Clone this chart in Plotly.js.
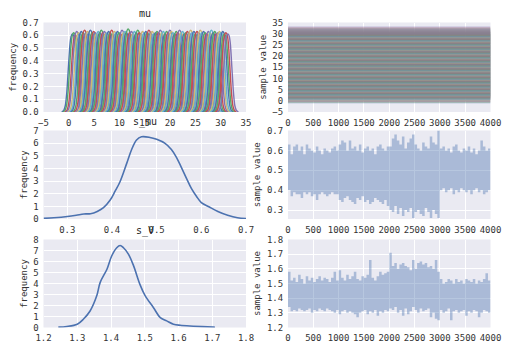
<!DOCTYPE html>
<html>
<head>
<meta charset="utf-8">
<script src="https://cdn.plot.ly/plotly-3.0.1.min.js"></script>
<style>html,body{margin:0;padding:0;background:#fff}#plot{width:506px;height:352px}</style>
</head>
<body>
<div id="plot"></div>
<script>
// ---------- DATA ----------
// mu: posterior means of each group parameter (centers of the KDE curves)
const muCenters = [
  0.70, 0.95, 1.30, 1.55, 1.90, 2.20, 2.45, 2.80, 3.10, 3.40,
  3.70, 4.00, 4.25, 4.60, 4.90, 5.20, 5.45, 5.80, 6.10, 6.40,
  6.70, 7.00, 7.25, 7.55, 7.85, 8.15, 8.45, 8.75, 9.00, 9.30,
  9.60, 9.90, 10.20, 10.50, 10.80, 11.10, 11.35, 11.70, 12.00, 12.35,
  12.65, 12.95, 13.30, 13.60, 13.90, 14.25, 14.55, 14.85, 15.20, 15.50,
  15.80, 16.15, 16.45, 16.75, 17.10, 17.40, 17.70, 18.05, 18.35, 18.65,
  19.00, 19.30, 19.60, 19.95, 20.25, 20.55, 20.90, 21.20, 21.50, 21.85,
  22.15, 22.45, 22.80, 23.10, 23.40, 23.75, 24.05, 24.35, 24.70, 25.00,
  25.30, 25.65, 25.95, 26.25, 26.60, 26.90, 27.20, 27.55, 27.85, 28.15,
  28.50, 28.80, 29.10, 29.45, 29.75, 30.05, 30.40, 30.70, 31.00, 31.40
];
// peak height of each mu KDE curve
const muPeaks = [
  0.61, 0.62, 0.60, 0.63, 0.62, 0.61, 0.63, 0.62, 0.64, 0.62,
  0.63, 0.61, 0.64, 0.62, 0.63, 0.62, 0.61, 0.63, 0.62, 0.64,
  0.62, 0.63, 0.61, 0.62, 0.63, 0.62, 0.64, 0.61, 0.63, 0.62,
  0.63, 0.62, 0.61, 0.64, 0.62, 0.63, 0.62, 0.65, 0.62, 0.63,
  0.61, 0.63, 0.62, 0.64, 0.62, 0.61, 0.63, 0.62, 0.63, 0.62,
  0.64, 0.62, 0.63, 0.61, 0.62, 0.63, 0.62, 0.64, 0.62, 0.63,
  0.61, 0.63, 0.62, 0.64, 0.63, 0.62, 0.61, 0.63, 0.62, 0.64,
  0.62, 0.63, 0.61, 0.62, 0.63, 0.62, 0.64, 0.62, 0.63, 0.61,
  0.63, 0.62, 0.64, 0.62, 0.63, 0.62, 0.61, 0.63, 0.62, 0.64,
  0.62, 0.63, 0.61, 0.62, 0.63, 0.62, 0.63, 0.61, 0.62, 0.61
];
// shape of one mu KDE curve: offset from the center and relative height
const kdeOffsets = [-2.1, -1.7, -1.4, -1.1, -0.8, -0.5, -0.25, 0, 0.25, 0.5, 0.8, 1.1, 1.4, 1.7, 2.1];
const kdeShape   = [0, 0.02, 0.08, 0.25, 0.55, 0.85, 0.97, 1, 0.98, 0.88, 0.58, 0.27, 0.08, 0.02, 0];
// half-spread of each mu trace around its center (sample value units)
const muTraceSpread = 1.9;

// s_mu KDE
const sMuX = [0.247, 0.27, 0.30, 0.32, 0.337, 0.352, 0.367, 0.381, 0.396, 0.407, 0.418, 0.433, 0.444, 0.455, 0.466,
              0.485, 0.50, 0.518, 0.533, 0.544, 0.555, 0.567, 0.578, 0.589, 0.60, 0.618, 0.637, 0.659, 0.681, 0.70];
const sMuY = [0.05, 0.1, 0.2, 0.3, 0.4, 0.42, 0.6, 0.9, 1.5, 2.2, 2.95, 4.4, 5.5, 6.25, 6.5,
              6.45, 6.3, 6.0, 5.5, 4.9, 4.1, 3.2, 2.4, 1.8, 1.3, 0.95, 0.6, 0.3, 0.1, 0.03];

// s_V KDE
const sVX = [1.244, 1.269, 1.30, 1.318, 1.338, 1.358, 1.368, 1.388, 1.402, 1.417, 1.427, 1.437, 1.452, 1.467,
             1.486, 1.501, 1.526, 1.546, 1.565, 1.585, 1.605, 1.644, 1.703, 1.708];
const sVY = [0.03, 0.09, 0.3, 0.75, 1.5, 2.9, 4.1, 5.3, 6.5, 7.25, 7.45, 7.25, 6.65, 5.6,
             3.9, 2.9, 1.8, 0.9, 0.6, 0.3, 0.2, 0.12, 0.03, 0.02];

// trace plots: iteration grid (every 50 iterations, 4 chains of 1000)
const traceIter = Array.from({length: 81}, (_, i) => i * 50);
const sMuHi = [
  0.63,0.58,0.62,0.63,0.60,0.62,0.58,0.63,0.61,0.60,0.59,0.62,0.60,0.58,0.61,0.60,0.59,0.61,0.62,0.60,
  0.63,0.65,0.64,0.60,0.65,0.61,0.62,0.60,0.63,0.59,0.61,0.62,0.60,0.61,0.58,0.62,0.63,0.61,0.60,0.62,
  0.62,0.66,0.68,0.65,0.63,0.67,0.61,0.64,0.66,0.68,0.63,0.61,0.60,0.64,0.62,0.61,0.67,0.64,0.63,0.70,
  0.61,0.62,0.60,0.61,0.59,0.62,0.63,0.60,0.59,0.61,0.60,0.62,0.59,0.61,0.58,0.60,0.65,0.62,0.60,0.61
];
const sMuLo = [
  0.40,0.37,0.39,0.38,0.38,0.36,0.39,0.38,0.39,0.37,0.38,0.35,0.38,0.39,0.38,0.37,0.38,0.39,0.38,0.38,
  0.35,0.34,0.36,0.37,0.35,0.34,0.33,0.36,0.35,0.37,0.34,0.35,0.33,0.34,0.36,0.35,0.34,0.33,0.35,0.32,
  0.30,0.29,0.32,0.28,0.31,0.27,0.30,0.29,0.31,0.26,0.29,0.30,0.28,0.27,0.31,0.29,0.26,0.30,0.28,0.26,
  0.40,0.41,0.39,0.40,0.41,0.38,0.40,0.39,0.41,0.40,0.39,0.40,0.38,0.40,0.41,0.39,0.40,0.38,0.39,0.40
];
const sVHi = [
  1.58,1.52,1.54,1.51,1.56,1.53,1.50,1.55,1.52,1.54,1.51,1.53,1.55,1.52,1.54,1.53,1.51,1.54,1.58,1.52,
  1.59,1.54,1.52,1.56,1.53,1.55,1.58,1.53,1.52,1.55,1.54,1.56,1.66,1.54,1.52,1.55,1.58,1.56,1.57,1.58,
  1.71,1.62,1.64,1.60,1.63,1.64,1.62,1.61,1.59,1.66,1.60,1.64,1.65,1.63,1.64,1.61,1.62,1.60,1.66,1.58,
  1.53,1.50,1.51,1.53,1.52,1.50,1.53,1.51,1.52,1.50,1.53,1.52,1.51,1.53,1.50,1.52,1.51,1.53,1.57,1.52
];
const sVLo = [
  1.34,1.31,1.32,1.31,1.33,1.32,1.31,1.32,1.33,1.30,1.32,1.31,1.33,1.32,1.31,1.33,1.32,1.31,1.30,1.32,
  1.29,1.31,1.32,1.30,1.31,1.30,1.29,1.27,1.30,1.31,1.32,1.29,1.31,1.30,1.32,1.28,1.31,1.30,1.32,1.31,
  1.33,1.32,1.34,1.30,1.32,1.28,1.33,1.29,1.31,1.34,1.32,1.30,1.33,1.31,1.32,1.33,1.27,1.30,1.26,1.25,
  1.32,1.30,1.31,1.33,1.25,1.31,1.32,1.30,1.31,1.32,1.28,1.31,1.30,1.32,1.31,1.27,1.30,1.32,1.31,1.30
];

// ---------- STYLE ----------
const palette = ['#4C72B0', '#55A868', '#C44E52', '#8172B2', '#CCB974', '#64B5CD'];
const paletteRGB = [[76,114,176],[85,168,104],[196,78,82],[129,114,178],[204,185,116],[100,181,205]];
const FONT = 'DejaVu Sans Mono, monospace';
const traceBand = 'rgba(76,114,176,0.4)';

const traces = [];
// mu KDEs
muCenters.forEach((c, i) => {
  traces.push({
    x: kdeOffsets.map(o => c + o), y: kdeShape.map(s => s * muPeaks[i]),
    mode: 'lines', line: {color: palette[i % 6], width: 1.4, shape: 'spline', smoothing: 0.6},
    xaxis: 'x', yaxis: 'y', hoverinfo: 'skip', showlegend: false
  });
});
// mu traces
const iStart = traceIter[0], iEnd = traceIter[traceIter.length - 1];
muCenters.forEach((c, i) => {
  const col = paletteRGB[i % 6];
  traces.push({
    x: [iStart, iEnd, iEnd, iStart], y: [c - muTraceSpread, c - muTraceSpread, c + muTraceSpread, c + muTraceSpread],
    mode: 'lines', fill: 'toself', line: {width: 0},
    fillcolor: `rgba(${col[0]},${col[1]},${col[2]},0.28)`,
    xaxis: 'x2', yaxis: 'y2', hoverinfo: 'skip', showlegend: false
  });
});
// s_mu KDE
traces.push({x: sMuX, y: sMuY, mode: 'lines', line: {color: palette[0], width: 1.6, shape: 'spline'},
  xaxis: 'x3', yaxis: 'y3', showlegend: false});
// trace bands (envelope of the sampled values)
function bandTraces(lo, hi, xa, ya) {
  const xs = traceIter;
  const loY = lo.concat([lo[lo.length - 1]]);
  const hiY = hi.concat([hi[hi.length - 1]]);
  return [
    {x: xs, y: loY, mode: 'lines', line: {width: 0, shape: 'hv'}, xaxis: xa, yaxis: ya, showlegend: false, hoverinfo: 'skip'},
    {x: xs, y: hiY, mode: 'lines', line: {width: 0, shape: 'hv'}, fill: 'tonexty', fillcolor: traceBand,
     xaxis: xa, yaxis: ya, showlegend: false, hoverinfo: 'skip'}
  ];
}
traces.push(...bandTraces(sMuLo, sMuHi, 'x4', 'y4'));
// s_V KDE
traces.push({x: sVX, y: sVY, mode: 'lines', line: {color: palette[0], width: 1.6, shape: 'spline'},
  xaxis: 'x5', yaxis: 'y5', showlegend: false});
traces.push(...bandTraces(sVLo, sVHi, 'x6', 'y6'));

// ---------- LAYOUT ----------
const W = 506, H = 352;
const colL = [43.5 / W, 246 / W], colR = [288 / W, 490.5 / W];
const row1 = [(H - 112) / H, (H - 22.5) / H];
const row2 = [(H - 219) / H, (H - 130.5) / H];
const row3 = [(H - 327.5) / H, (H - 239.5) / H];

function ax(extra) {
  return Object.assign({
    showgrid: true, gridcolor: '#ffffff', gridwidth: 1, zeroline: false, showline: false,
    ticks: 'outside', ticklen: 2, tickcolor: 'rgba(0,0,0,0)',
    tickfont: {family: FONT, size: 9, color: '#333333'}, automargin: false, fixedrange: true
  }, extra);
}
function ytitle(t) { return {text: t, font: {family: FONT, size: 9, color: '#333333'}, standoff: 4}; }

const layout = {
  width: W, height: H, margin: {l: 0, r: 0, t: 0, b: 0},
  paper_bgcolor: '#ffffff', plot_bgcolor: '#EAEAF2', showlegend: false,
  xaxis:  ax({domain: colL, anchor: 'y',  range: [-5, 35], dtick: 5, tick0: 0}),
  yaxis:  ax({domain: row1, anchor: 'x',  range: [0, 0.7], dtick: 0.1, tickformat: '.1f', title: ytitle('frequency')}),
  xaxis2: ax({domain: colR, anchor: 'y2', range: [0, 4000], dtick: 500, tick0: 0}),
  yaxis2: ax({domain: row1, anchor: 'x2', range: [-5, 35], dtick: 5, tick0: 0, title: ytitle('sample value')}),
  xaxis3: ax({domain: colL, anchor: 'y3', range: [0.2467, 0.70], dtick: 0.1, tick0: 0, tickformat: '.1f'}),
  yaxis3: ax({domain: row2, anchor: 'x3', range: [0, 7], dtick: 1, tick0: 0, title: ytitle('frequency')}),
  xaxis4: ax({domain: colR, anchor: 'y4', range: [0, 4000], dtick: 500, tick0: 0}),
  yaxis4: ax({domain: row2, anchor: 'x4', range: [0.255, 0.7], dtick: 0.1, tick0: 0, tickformat: '.1f', title: ytitle('sample value')}),
  xaxis5: ax({domain: colL, anchor: 'y5', range: [1.2, 1.8], dtick: 0.1, tick0: 0, tickformat: '.1f'}),
  yaxis5: ax({domain: row3, anchor: 'x5', range: [0, 8], dtick: 1, tick0: 0, title: ytitle('frequency')}),
  xaxis6: ax({domain: colR, anchor: 'y6', range: [0, 4000], dtick: 500, tick0: 0}),
  yaxis6: ax({domain: row3, anchor: 'x6', range: [1.2, 1.8], dtick: 0.1, tick0: 0, tickformat: '.1f', title: ytitle('sample value')}),
  annotations: [
    {text: 'mu',   xref: 'x domain',  yref: 'y domain',  x: 0.5, y: 1, yanchor: 'bottom', yshift: 2, showarrow: false,
     font: {family: FONT, size: 10, color: '#262626'}},
    {text: 's_mu', xref: 'x3 domain', yref: 'y3 domain', x: 0.5, y: 1, yanchor: 'bottom', yshift: 1, showarrow: false,
     font: {family: FONT, size: 10, color: '#262626'}},
    {text: 's_V',  xref: 'x5 domain', yref: 'y5 domain', x: 0.5, y: 1, yanchor: 'bottom', yshift: 1, showarrow: false,
     font: {family: FONT, size: 10, color: '#262626'}}
  ]
};

Plotly.newPlot('plot', traces, layout, {staticPlot: true, displayModeBar: false});
</script>
</body>
</html>
